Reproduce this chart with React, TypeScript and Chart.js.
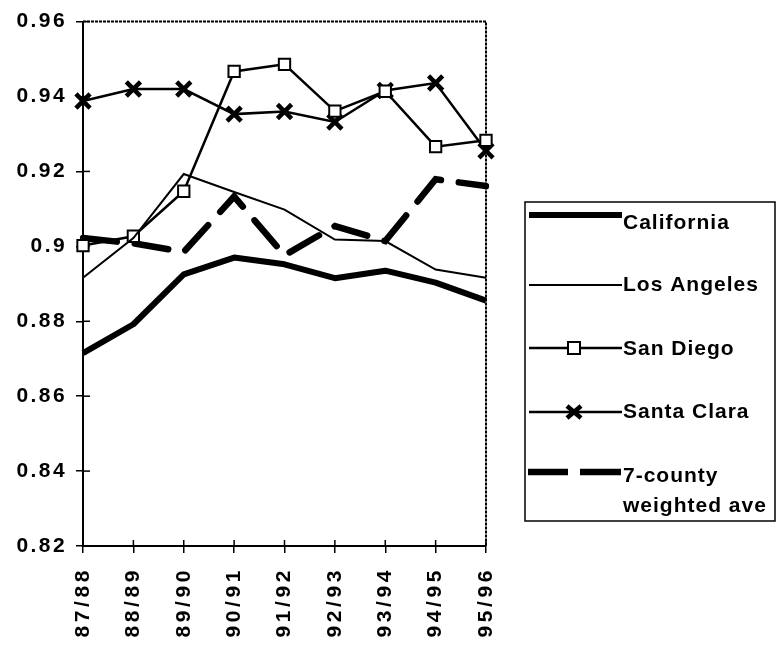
import React, { useEffect, useRef } from 'react';
import { Chart, registerables } from 'chart.js';

Chart.register(...registerables);

const categories = ['87/88', '88/89', '89/90', '90/91', '91/92', '92/93', '93/94', '94/95', '95/96'];
const california = [0.8715, 0.8792, 0.8925, 0.897, 0.8952, 0.8915, 0.8935, 0.8903, 0.8855];
const losAngeles = [0.8916, 0.9022, 0.9193, 0.9145, 0.9098, 0.9018, 0.9014, 0.8938, 0.8916];
const sanDiego = [0.9002, 0.9027, 0.9147, 0.9467, 0.9486, 0.9361, 0.9414, 0.9266, 0.9283];
const santaClara = [0.9388, 0.942, 0.942, 0.9353, 0.936, 0.9332, 0.9416, 0.9436, 0.9255];
const sevenCounty = [0.9022, 0.9008, 0.8985, 0.9133, 0.8976, 0.9054, 0.9014, 0.9179, 0.9161];

const seriesLabels = ['California', 'Los Angeles', 'San Diego', 'Santa Clara', '7-county\nweighted ave'];
const yTicks = [0.82, 0.84, 0.86, 0.88, 0.9, 0.92, 0.94, 0.96];
const yTickLabels = ['0.82', '0.84', '0.86', '0.88', '0.9', '0.92', '0.94', '0.96'];

const FONT = "'Liberation Sans', Arial, Helvetica, sans-serif";

const spacingPlugin = {
  id: 'spacing',
  beforeLayout(chart: any) {
    const wrap = (scale: any, spacing: string) => {
      if (!scale || scale.__wrapped) return;
      const orig = scale.drawLabels.bind(scale);
      scale.drawLabels = (area: any) => {
        const ctx = scale.ctx;
        ctx.save();
        ctx.letterSpacing = spacing;
        orig(area);
        ctx.restore();
      };
      scale.__wrapped = true;
    };
    wrap(chart.scales.x, '3.6px');
    wrap(chart.scales.y, '2.4px');
  },
};

const framePlugin = {
  id: 'frame',
  beforeDatasetsDraw(chart: any) {
    const { ctx, chartArea } = chart;
    const { left, right, top, bottom } = chartArea;
    ctx.save();
    ctx.strokeStyle = '#000';
    ctx.lineWidth = 2;
    ctx.setLineDash([3, 1]);
    ctx.beginPath();
    ctx.moveTo(left, top);
    ctx.lineTo(right, top);
    ctx.lineTo(right, bottom);
    ctx.stroke();
    ctx.setLineDash([]);
    ctx.lineWidth = 1.5;
    const ys = chart.scales.y;
    ys.ticks.forEach((t: any) => {
      const py = ys.getPixelForValue(t.value);
      ctx.beginPath();
      ctx.moveTo(left, py);
      ctx.lineTo(left + 7, py);
      ctx.stroke();
    });
    const xs = chart.scales.x;
    xs.ticks.forEach((_t: any, i: number) => {
      const px = xs.getPixelForTick(i);
      ctx.beginPath();
      ctx.moveTo(px, bottom);
      ctx.lineTo(px, bottom - 6);
      ctx.stroke();
    });
    ctx.restore();
  },
};

const legendPlugin = {
  id: 'customLegend',
  afterDraw(chart: any) {
    const ctx = chart.ctx;
    const lineY = [215, 285, 348, 412, 472];
    const textBase = [228.5, 290.5, 355, 418, 482];
    ctx.save();
    (ctx as any).letterSpacing = '1px';
    ctx.strokeStyle = '#000';
    ctx.lineWidth = 1.5;
    ctx.setLineDash([]);
    ctx.strokeRect(525, 202, 250, 319);
    chart.data.datasets.forEach((ds: any, i: number) => {
      const y = lineY[i];
      ctx.save();
      ctx.strokeStyle = '#000';
      ctx.lineWidth = ds.borderWidth;
      ctx.setLineDash([]);
      ctx.beginPath();
      if (ds.borderDash) {
        ctx.moveTo(528, y);
        ctx.lineTo(568, y);
        ctx.moveTo(580, y);
        ctx.lineTo(621, y);
      } else {
        ctx.moveTo(529, y);
        ctx.lineTo(622, y);
      }
      ctx.stroke();
      ctx.restore();
      const mx = 574;
      if (ds.pointStyle === 'rect' && ds.pointRadius > 0) {
        ctx.save();
        ctx.fillStyle = '#fff';
        ctx.strokeStyle = '#000';
        ctx.lineWidth = ds.pointBorderWidth;
        ctx.fillRect(mx - 6, y - 6, 12, 12);
        ctx.strokeRect(mx - 6, y - 6, 12, 12);
        ctx.restore();
      } else if (ds.pointStyle === 'crossRot' && ds.pointRadius > 0) {
        ctx.save();
        ctx.strokeStyle = '#000';
        ctx.lineWidth = ds.pointBorderWidth;
        ctx.beginPath();
        ctx.moveTo(mx - 7, y - 6);
        ctx.lineTo(mx + 7, y + 6);
        ctx.moveTo(mx - 7, y + 6);
        ctx.lineTo(mx + 7, y - 6);
        ctx.stroke();
        ctx.restore();
      }
      ctx.fillStyle = '#000';
      ctx.font = `bold 21px ${FONT}`;
      ctx.textAlign = 'left';
      ctx.textBaseline = 'alphabetic';
      String(ds.label)
        .split('\n')
        .forEach((line: string, k: number) => {
          ctx.fillText(line, 623, textBase[i] + k * 30);
        });
    });
    ctx.restore();
  },
};

export default function App() {
  const ref = useRef<HTMLCanvasElement>(null);
  useEffect(() => {
    if (!ref.current) return;
    const chart = new Chart(ref.current, {
      type: 'line',
      data: {
        labels: categories,
        datasets: [
          {
            label: seriesLabels[0],
            data: california,
            borderColor: '#000',
            borderWidth: 6,
            pointRadius: 0,
            tension: 0,
            borderJoinStyle: 'round',
          },
          {
            label: seriesLabels[1],
            data: losAngeles,
            borderColor: '#000',
            borderWidth: 2,
            pointRadius: 0,
            tension: 0,
          },
          {
            label: seriesLabels[2],
            data: sanDiego,
            borderColor: '#000',
            borderWidth: 2.5,
            pointStyle: 'rect',
            pointRadius: 8,
            pointBackgroundColor: '#fff',
            pointBorderColor: '#000',
            pointBorderWidth: 2,
            tension: 0,
          },
          {
            label: seriesLabels[3],
            data: santaClara,
            borderColor: '#000',
            borderWidth: 2.5,
            pointStyle: 'crossRot',
            pointRadius: 10,
            pointBackgroundColor: '#000',
            pointBorderColor: '#000',
            pointBorderWidth: 4.5,
            tension: 0,
          },
          {
            label: seriesLabels[4],
            data: sevenCounty,
            borderColor: '#000',
            borderWidth: 6.5,
            borderDash: [34, 18],
            borderCapStyle: 'round',
            pointRadius: 0,
            tension: 0,
          },
        ] as any,
      },
      options: {
        responsive: false,
        animation: false,
        devicePixelRatio: 1,
        layout: { padding: { top: 17, right: 294, left: 0, bottom: 0 } },
        plugins: {
          legend: { display: false },
          tooltip: { enabled: false },
        },
        scales: {
          x: {
            type: 'category',
            offset: false,
            afterFit: (s: any) => {
              s.height = 99;
            },
            grid: {
              display: true,
              drawOnChartArea: false,
              drawTicks: true,
              tickLength: 7,
              color: '#000',
              lineWidth: 1.5,
            },
            border: { display: true, color: '#000', width: 2 },
            ticks: {
              color: '#000',
              font: { family: FONT, size: 21, weight: 'bold' },
              maxRotation: 90,
              minRotation: 90,
              autoSkip: false,
              padding: 14,
            },
          },
          y: {
            min: 0.82,
            max: 0.96,
            afterFit: (s: any) => {
              s.width = 83;
            },
            afterBuildTicks: (s: any) => {
              s.ticks = yTicks.map((value) => ({ value }));
            },
            grid: {
              display: true,
              drawOnChartArea: false,
              drawTicks: true,
              tickLength: 7,
              color: '#000',
              lineWidth: 1.5,
            },
            border: { display: true, color: '#000', width: 2 },
            ticks: {
              color: '#000',
              font: { family: FONT, size: 21, weight: 'bold' },
              padding: 9,
              callback: (_v: any, i: number) => yTickLabels[i],
            },
          },
        },
      } as any,
      plugins: [spacingPlugin, framePlugin, legendPlugin],
    });
    return () => chart.destroy();
  }, []);
  return (
    <div style={{ position: 'absolute', left: 0, top: 0, width: 780, height: 645, background: '#fff' }}>
      <canvas ref={ref} width={780} height={645} style={{ display: 'block', width: 780, height: 645 }} />
    </div>
  );
}
